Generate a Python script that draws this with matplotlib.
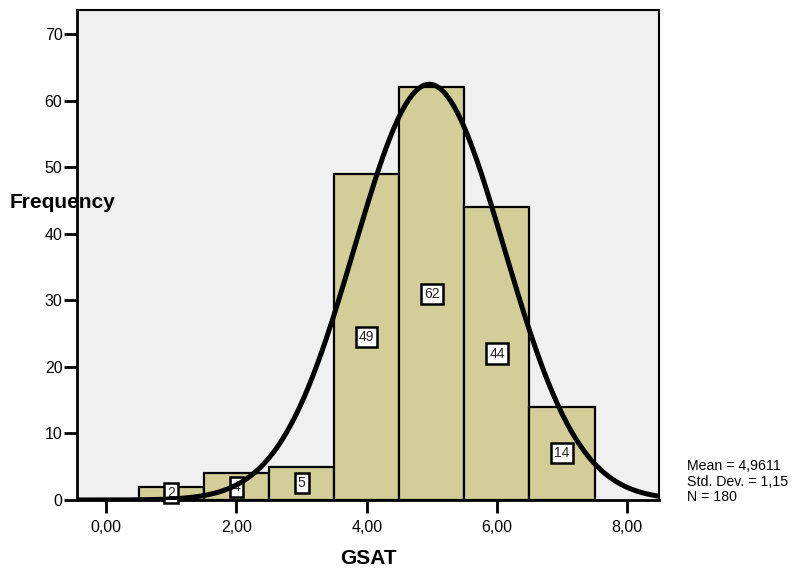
import numpy as np
import matplotlib.pyplot as plt

plt.rcParams['font.family'] = ['Liberation Sans', 'DejaVu Sans']

# histogram of GSAT scores (bin centres and counts)
centres = [1, 2, 3, 4, 5, 6, 7]
counts = [2, 4, 5, 49, 62, 44, 14]
mean = 4.9611
sd = 1.15
n = 180
xticks = [0, 2, 4, 6, 8]
xtick_labels = ['0,00', '2,00', '4,00', '6,00', '8,00']
yticks = [0, 10, 20, 30, 40, 50, 60, 70]
stats_lines = ['Mean = 4,9611', 'Std. Dev. = 1,15', 'N = 180']

fig = plt.figure(figsize=(8.06, 5.75), dpi=100)
ax = fig.add_axes([77/806, 75/575, 582/806, 490/575])
ax.set_facecolor('#f0f0f0')

ax.bar(centres, counts, width=1.0, color='#d3ce97', edgecolor='black',
       linewidth=1.6, zorder=2)

for c, v in zip(centres, counts):
    ax.text(c, v / 2, str(v), ha='center', va='center', fontsize=10,
            color='#222222', zorder=3,
            bbox=dict(boxstyle='square,pad=0.22', fc='white', ec='black', lw=1.8))

# normal curve scaled to counts (bin width 1)
xs = np.linspace(-0.5, 8.6, 400)
ys = n * np.exp(-0.5 * ((xs - mean) / sd) ** 2) / (sd * np.sqrt(2 * np.pi))
ax.plot(xs, ys, color='black', linewidth=3.6, zorder=4)

ax.set_xlim(-0.45, 8.49)
ax.set_ylim(0, 73.6)
ax.set_xticks(xticks)
ax.set_xticklabels(xtick_labels)
ax.set_yticks(yticks)
ax.tick_params(axis='both', direction='out', length=9.5, width=2, labelsize=11.5,
               colors='black')
ax.tick_params(axis='x', pad=5)
ax.tick_params(axis='y', pad=1)
for s in ax.spines.values():
    s.set_linewidth(1.5)
ax.spines['left'].set_linewidth(2)
ax.spines['bottom'].set_linewidth(2)

fig.text(10/806, 1 - 203/575, 'Frequency', fontsize=15, fontweight='bold',
         ha='left', va='center')
fig.text(368/806, 1 - 559/575, 'GSAT', fontsize=15, fontweight='bold',
         ha='center', va='center')
for i, line in enumerate(stats_lines):
    fig.text(687/806, 1 - (466 + 15.5 * i)/575, line, fontsize=10.2,
             ha='left', va='center')

fig.savefig('out.png', dpi=100)
